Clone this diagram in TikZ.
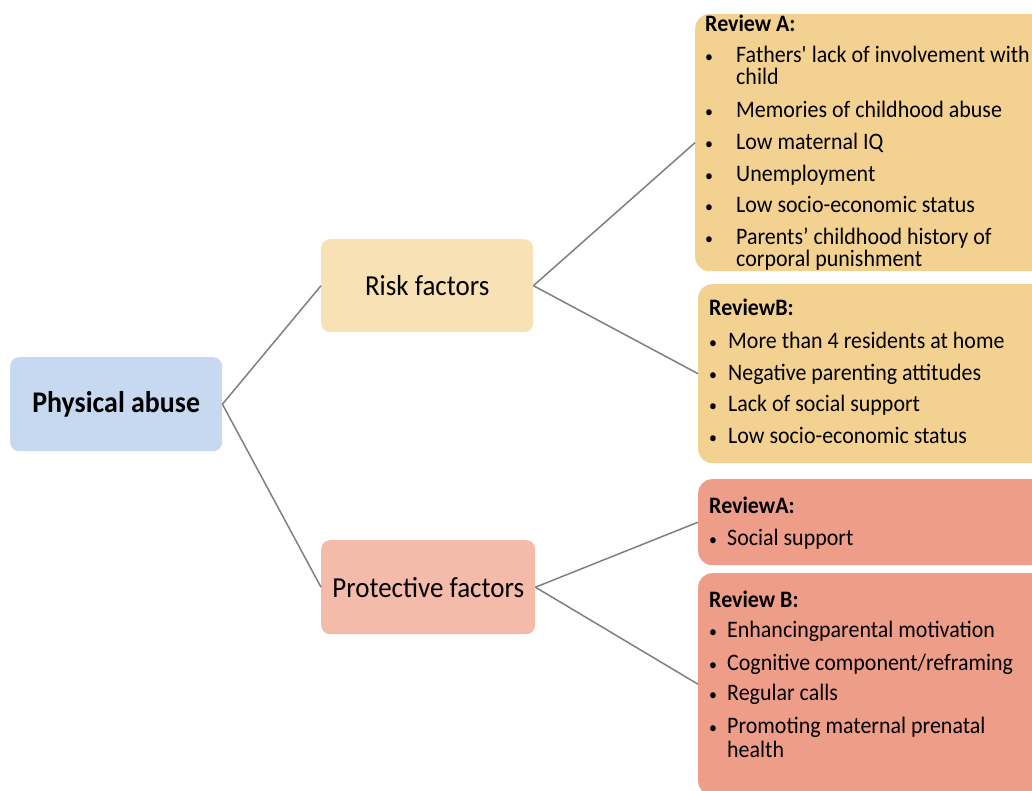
\documentclass[tikz,border=0pt]{standalone}
\usepackage{fontspec}
\setmainfont{Carlito}[FakeStretch=0.93]
\definecolor{rootfill}{HTML}{C6D9F0}
\definecolor{riskfill}{HTML}{F7E1B5}
\definecolor{protfill}{HTML}{F4BAAA}
\definecolor{riskrev}{HTML}{F3D291}
\definecolor{protrev}{HTML}{EE9D88}
\definecolor{linkgray}{HTML}{7F7F7F}
\begin{document}
\begin{tikzpicture}[x=1pt,y=-1pt,
  panel/.style={rectangle, rounded corners=9pt, inner sep=0pt, anchor=north west, draw=none},
  revpanel/.style={panel, rounded corners=14pt},
  link/.style={draw=linkgray, line width=1.5pt},
  hdr/.style={anchor=base west, inner sep=0pt, font=\fontsize{23.6}{23.6}\selectfont\bfseries},
  itm/.style={anchor=base west, inner sep=0pt, font=\fontsize{23.6}{23.6}\selectfont},
  bul/.style={anchor=base, inner sep=0pt, font=\fontsize{17}{17}\selectfont}]
\useasboundingbox (0,0) rectangle (1032,791);
\clip (0,0) rectangle (1032,791);

% level one and two
\node[panel, fill=rootfill, minimum width=212pt, minimum height=94pt,
      font=\fontsize{30}{30}\selectfont\bfseries] (root) at (10,357) {Physical abuse};
\node[panel, fill=riskfill, minimum width=212pt, minimum height=93pt,
      font=\fontsize{29}{29}\selectfont] (risk) at (321,239) {Risk factors};
\node[panel, fill=protfill, minimum width=214pt, minimum height=94pt,
      font=\fontsize{29}{29}\selectfont] (prot) at (321,540) {Protective factors};

% review panels
\node[revpanel, fill=riskrev, minimum width=360pt, minimum height=257pt] (riskA) at (695,14) {};
\node[revpanel, fill=riskrev, minimum width=360pt, minimum height=179pt] (riskB) at (698,284) {};
\node[revpanel, fill=protrev, minimum width=360pt, minimum height=86pt] (protA) at (698,479) {};
\node[revpanel, fill=protrev, minimum width=360pt, minimum height=222pt] (protB) at (698,573) {};

% connectors
\draw[link] (root.east) -- (risk.west);
\draw[link] (root.east) -- (prot.west);
\draw[link] (risk.east) -- (riskA.west);
\draw[link] (risk.east) -- (riskB.west);
\draw[link] (prot.east) -- (protA.west);
\draw[link] (prot.east) -- (protB.west);

% risk factors, review A
\node[hdr] (riskAh) at (705,32) {Review A:};
\foreach \yy/\tt [count=\i] in {63/{Fathers\textquotesingle{} lack of involvement with},
    118/{Memories of childhood abuse}, 150/{Low maternal IQ},
    182/{Unemployment}, 213/{Low socio-economic status},
    245/{Parents’ childhood history of}} {
  \node[bul] (riskAb\i) at (709,\yy) {•};
  \node[itm] (riskAt\i) at (736,\yy) {\tt};
}
\node[itm] (riskAw1) at (736,85) {child};
\node[itm] (riskAw6) at (736,267) {corporal punishment};

% risk factors, review B
\node[hdr] (riskBh) at (709,316) {ReviewB:};
\foreach \yy/\tt [count=\i] in {348/{More than 4 residents at home},
    380/{Negative parenting attitudes}, 411/{Lack of social support},
    443/{Low socio-economic status}} {
  \node[bul] (riskBb\i) at (713,\yy) {•};
  \node[itm] (riskBt\i) at (728,\yy) {\tt};
}

% protective factors, review A
\node[hdr] (protAh) at (709,513) {ReviewA:};
\node[bul] (protAb1) at (713,545) {•};
\node[itm] (protAt1) at (727,545) {Social support};

% protective factors, review B
\node[hdr] (protBh) at (709,607) {Review B:};
\foreach \yy/\tt [count=\i] in {637/{Enhancingparental motivation},
    670/{Cognitive component/reframing}, 700/{Regular calls},
    733/{Promoting maternal prenatal}} {
  \node[bul] (protBb\i) at (713,\yy) {•};
  \node[itm] (protBt\i) at (727,\yy) {\tt};
}
\node[itm] (protBw4) at (727,757) {health};
\end{tikzpicture}
\end{document}
